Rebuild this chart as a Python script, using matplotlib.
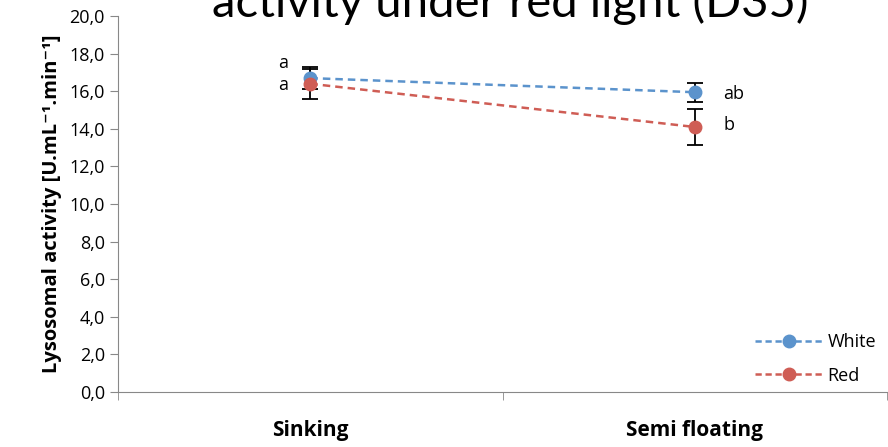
import numpy as np
import matplotlib.pyplot as plt
from matplotlib.lines import Line2D
from matplotlib.ticker import FuncFormatter, FixedLocator

categories = ["Sinking", "Semi floating"]
white_vals = [16.7, 15.95]
white_err = [0.6, 0.5]
red_vals = [16.4, 14.1]
red_err = [0.8, 0.95]
white_letters = ["a", "ab"]
red_letters = ["a", "b"]

plt.rcParams['font.family'] = ['Open Sans', 'DejaVu Sans']

WHITE_C = '#5b93cc'
RED_C = '#cf5d55'

fig = plt.figure(figsize=(8.88, 4.47), dpi=100)
ax = fig.add_axes([0.133, 0.123, 0.866, 0.841])

x = np.arange(len(categories))
for vals, err, col in [(white_vals, white_err, WHITE_C), (red_vals, red_err, RED_C)]:
    ax.errorbar(x, vals, yerr=err, color=col, ls='--', lw=1.8,
                marker='o', ms=9, ecolor='black', elinewidth=1.3, capsize=6,
                capthick=1.3, dashes=(3, 2), zorder=3)

# significance letters
ax.text(x[0] - 0.07, white_vals[0] + 0.8, white_letters[0], fontsize=13, ha='center', va='center')
ax.text(x[0] - 0.07, red_vals[0] - 0.05, red_letters[0], fontsize=13, ha='center', va='center')
ax.text(x[1] + 0.1, white_vals[1] - 0.1, white_letters[1], fontsize=13, ha='center', va='center')
ax.text(x[1] + 0.09, red_vals[1] + 0.1, red_letters[1], fontsize=13, ha='center', va='center')

ax.set_xlim(-0.5, 1.5)
ax.set_ylim(0, 20)
ax.set_yticks(np.arange(0, 21, 2))
ax.yaxis.set_major_formatter(FuncFormatter(lambda v, p: f"{v:.1f}".replace('.', ',')))
ax.set_xticks(x)
ax.set_xticklabels(categories, fontsize=15, fontweight='bold')
ax.xaxis.set_minor_locator(FixedLocator([-0.5, 0.5, 1.5]))
ax.tick_params(axis='x', which='major', length=0, pad=20)
ax.tick_params(axis='x', which='minor', length=6, direction='out', color='#888888')
ax.tick_params(axis='y', labelsize=13, length=6, direction='out', color='#888888')

for s in ['top', 'right']:
    ax.spines[s].set_visible(False)
for s in ['left', 'bottom']:
    ax.spines[s].set_color('#888888')

ax.set_ylabel("Lysosomal activity [U.mL\u207b\u00b9.min\u207b\u00b9]",
              fontsize=14.5, fontweight='bold', labelpad=5)

handles = [Line2D([], [], color=WHITE_C, ls='--', dashes=(2.5, 1.5), lw=1.8, marker='o', ms=9),
           Line2D([], [], color=RED_C, ls='--', dashes=(2.5, 1.5), lw=1.8, marker='o', ms=9)]
ax.legend(handles, ["White", "Red"], loc='lower right', frameon=False, fontsize=13,
          handlelength=3.7, labelspacing=0.85, borderaxespad=0.0, handletextpad=0.3,
          bbox_to_anchor=(0.995, 0.0))

fig.text(0.575, 0.962, "activity under red light (D35)", fontsize=34,
         ha='center', va='baseline', family=['Lato', 'DejaVu Sans'])

fig.savefig('out.png', dpi=100)
